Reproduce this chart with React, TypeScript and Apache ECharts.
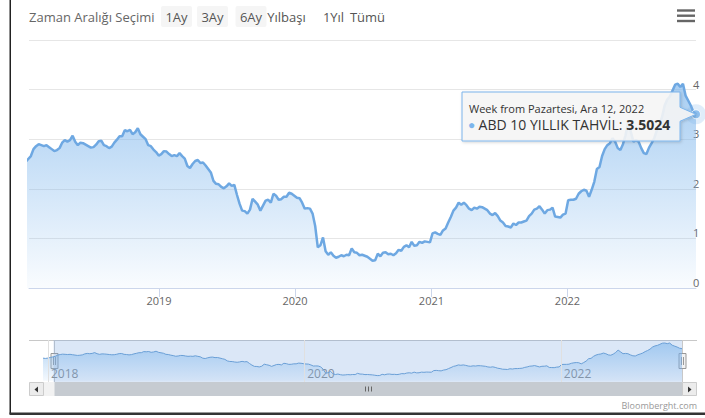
import React, { useEffect, useRef } from 'react';
import * as echarts from 'echarts';

// ---------- data ----------
const SERIES_NAME = 'ABD 10 YILLIK TAHVİL';
// first Monday of each block of weekly values
const FIRST_MONDAYS = ['2017-12-18', '2018-01-01', '2019-01-07', '2020-01-06', '2021-01-04', '2022-01-03'];

const y2017 = [2.46, 2.43];
const y2018 = [
  2.47, 2.54, 2.6, 2.66, 2.8,
  2.86, 2.9, 2.88, 2.86,
  2.88, 2.84, 2.8, 2.76,
  2.78, 2.82, 2.93, 2.98, 2.95,
  2.98, 3.07, 2.95, 2.88,
  2.93, 2.92, 2.89, 2.86,
  2.83, 2.84, 2.89, 2.96, 2.97,
  2.88, 2.86, 2.82, 2.85,
  2.93, 2.99, 3.06, 3.06,
  3.18, 3.16, 3.19, 3.1, 3.14,
  3.22, 3.1, 3.05, 3.0,
  2.88, 2.86, 2.79, 2.74, 2.67,
];
const y2019 = [
  2.7, 2.76, 2.75, 2.7,
  2.66, 2.68, 2.66, 2.72,
  2.66, 2.61, 2.46, 2.42,
  2.5, 2.56, 2.58, 2.52, 2.53,
  2.47, 2.4, 2.33, 2.16,
  2.1, 2.09, 2.04, 2.01,
  2.05, 2.11, 2.06, 2.08, 1.88,
  1.7, 1.56, 1.55, 1.5,
  1.58, 1.8, 1.74, 1.68, 1.56,
  1.66, 1.76, 1.78, 1.72,
  1.9, 1.86, 1.78, 1.79,
  1.84, 1.84, 1.92, 1.9, 1.86,
];
const y2020 = [
  1.82, 1.81, 1.72, 1.6,
  1.61, 1.6, 1.5, 1.25,
  0.82, 0.86, 1.02, 0.74, 0.67,
  0.72, 0.65, 0.61, 0.63,
  0.66, 0.64, 0.67, 0.66,
  0.8, 0.72, 0.71, 0.66, 0.67,
  0.65, 0.63, 0.59, 0.55,
  0.56, 0.69, 0.64, 0.71, 0.72,
  0.68, 0.69, 0.66, 0.7,
  0.77, 0.75, 0.83, 0.86,
  0.82, 0.93, 0.85, 0.86, 0.93,
  0.91, 0.94, 0.93, 0.92,
];
const y2021 = [
  1.1, 1.12, 1.09, 1.07,
  1.16, 1.2, 1.32, 1.43,
  1.56, 1.62, 1.72, 1.68, 1.72,
  1.67, 1.6, 1.57, 1.62,
  1.6, 1.64, 1.63, 1.6, 1.57,
  1.5, 1.47, 1.51, 1.45,
  1.36, 1.32, 1.25, 1.24,
  1.22, 1.3, 1.27, 1.32, 1.32,
  1.34, 1.36, 1.45, 1.5,
  1.58, 1.6, 1.65, 1.58,
  1.5, 1.57, 1.58, 1.62, 1.44,
  1.43, 1.42, 1.48, 1.5,
];
const y2022 = [
  1.77, 1.78, 1.78, 1.8, 1.9,
  1.95, 1.98, 1.96, 1.84,
  1.98, 2.14, 2.4, 2.44,
  2.66, 2.8, 2.88, 2.92,
  3.02, 2.95, 2.82, 2.78, 2.9,
  3.08, 3.35, 3.15, 2.95,
  2.98, 2.95, 2.82, 2.72,
  2.7, 2.83, 2.92, 3.02, 3.18,
  3.3, 3.45, 3.68, 3.8,
  3.86, 3.98, 4.1, 4.12, 4.05,
  4.12, 3.88, 3.78, 3.68,
  3.55, 3.5024,
];
const VALUE_BLOCKS = [y2017, y2018, y2019, y2020, y2021, y2022];

const MAIN_START = '2018-01-17';
const MAIN_YEAR_TICKS = [2019, 2020, 2021, 2022];
const NAV_YEAR_TICKS = [2018, 2020, 2022];
const Y_MIN = 0;
const Y_MAX = 5;
const Y_STEP = 1;
const RANGE_LABEL = 'Zaman Aralığı Seçimi';
const RANGE_BUTTONS = ['1Ay', '3Ay', '6Ay', 'Yılbaşı', '1Yıl', 'Tümü'];
const TR_MONTHS = ['Oca', 'Şub', 'Mar', 'Nis', 'May', 'Haz', 'Tem', 'Ağu', 'Eyl', 'Eki', 'Kas', 'Ara'];
const CREDITS = 'Bloomberght.com';

// ---------- helpers ----------
const DAY = 86400000;
const toTs = (s: string) => {
  const [y, m, d] = s.split('-').map(Number);
  return Date.UTC(y, m - 1, d);
};
const POINTS: [number, number][] = [];
VALUE_BLOCKS.forEach((vals, b) => {
  const t0 = toTs(FIRST_MONDAYS[b]);
  vals.forEach((v, i) => POINTS.push([t0 + i * 7 * DAY, v]));
});
const FIRST_TS = POINTS[0][0];
const LAST = POINTS[POINTS.length - 1];
const LAST_TS = LAST[0];
const yearTs = (y: number) => Date.UTC(y, 0, 1);
const yearLabel = (v: number) => String(new Date(v).getUTCFullYear());

const FONT = '"Open Sans", "Noto Sans", sans-serif';
const BLUE = '#7cb5ec';
const LINE_BLUE = '#6ea8e2';

const grad = (a0: number, a1: number) =>
  new echarts.graphic.LinearGradient(0, 0, 0, 1, [
    { offset: 0, color: `rgba(124,181,236,${a0})` },
    { offset: 1, color: `rgba(124,181,236,${a1})` },
  ]);

export default function App() {
  const ref = useRef<HTMLDivElement>(null);

  useEffect(() => {
    if (!ref.current) return;
    const chart = echarts.init(ref.current, undefined, { renderer: 'svg' });
    const mainMin = toTs(MAIN_START);

    chart.setOption({
      animation: false,
      backgroundColor: '#ffffff',
      textStyle: { fontFamily: FONT },
      grid: [
        { left: 29, top: 40, width: 667, height: 248 },
        { left: 43, top: 340, width: 639, height: 42 },
      ],
      xAxis: [
        {
          type: 'value',
          gridIndex: 0,
          min: mainMin,
          max: LAST_TS,
          axisLine: { show: true, onZero: false, lineStyle: { color: '#ccd6eb', width: 1 } },
          axisTick: {
            show: true,
            length: 9,
            lineStyle: { color: '#ccd6eb' },
            customValues: MAIN_YEAR_TICKS.map(yearTs),
          },
          axisLabel: {
            customValues: MAIN_YEAR_TICKS.map(yearTs),
            formatter: yearLabel,
            color: '#666666',
            fontSize: 11,
            fontFamily: FONT,
            margin: 7,
          },
          splitLine: { show: false },
        },
        {
          type: 'value',
          gridIndex: 1,
          min: FIRST_TS,
          max: LAST_TS,
          axisLine: { show: false, onZero: false },
          axisTick: { show: false },
          axisLabel: {
            customValues: NAV_YEAR_TICKS.map(yearTs),
            formatter: yearLabel,
            inside: true,
            align: 'left',
            verticalAlign: 'bottom',
            padding: [0, 0, 0, 3],
            margin: 3,
            color: '#8a8a8a',
            fontSize: 12,
            fontFamily: FONT,
          },
          splitLine: { show: false },
        },
      ],
      yAxis: [
        {
          type: 'value',
          gridIndex: 0,
          position: 'right',
          min: Y_MIN,
          max: Y_MAX,
          interval: Y_STEP,
          axisLine: { show: false },
          axisTick: { show: false },
          splitLine: { show: true, lineStyle: { color: '#e6e6e6', width: 1 } },
          axisLabel: {
            color: '#666666',
            fontSize: 11,
            fontFamily: FONT,
            margin: -3,
            align: 'left',
            verticalAlign: 'bottom',
            formatter: (v: number) => (v === Y_MAX ? '' : String(v)),
          },
        },
        {
          type: 'value',
          gridIndex: 1,
          min: -0.15,
          max: 4.45,
          show: false,
          splitLine: { show: false },
        },
      ],
      series: [
        {
          name: SERIES_NAME,
          type: 'line',
          xAxisIndex: 0,
          yAxisIndex: 0,
          data: POINTS,
          showSymbol: false,
          symbol: 'none',
          lineStyle: { color: LINE_BLUE, width: 2.5 },
          areaStyle: { color: grad(0.95, 0.06) },
          z: 2,
        },
        {
          type: 'scatter',
          xAxisIndex: 0,
          yAxisIndex: 0,
          data: [LAST],
          symbolSize: 20,
          itemStyle: { color: 'rgba(124,181,236,0.3)' },
          clip: false,
          silent: true,
          z: 4,
        },
        {
          type: 'scatter',
          xAxisIndex: 0,
          yAxisIndex: 0,
          data: [LAST],
          symbolSize: 9,
          itemStyle: { color: BLUE, borderColor: '#ffffff', borderWidth: 1 },
          clip: false,
          silent: true,
          z: 5,
        },
        {
          type: 'line',
          xAxisIndex: 1,
          yAxisIndex: 1,
          data: POINTS,
          showSymbol: false,
          symbol: 'none',
          lineStyle: { color: '#6a9fd6', width: 1 },
          areaStyle: { color: grad(0.85, 0.12) },
          silent: true,
          markLine: {
            silent: true,
            symbol: 'none',
            label: { show: false },
            lineStyle: { color: '#e0e0e0', width: 1, type: 'solid' },
            data: NAV_YEAR_TICKS.map((y) => ({ xAxis: yearTs(y) })),
          },
          markArea: {
            silent: true,
            itemStyle: { color: 'rgba(110,160,225,0.25)' },
            data: [[{ xAxis: mainMin }, { xAxis: LAST_TS }]],
          },
        },
      ],
    });

    // ---- decorations positioned through the chart's own scales ----
    const hl = chart.convertToPixel({ gridIndex: 1 }, [mainMin, 0]) as number[];
    const hr = chart.convertToPixel({ gridIndex: 1 }, [LAST_TS, 0]) as number[];
    const anchor = chart.convertToPixel({ seriesIndex: 0 }, LAST) as number[];
    const lx = Math.round(hl[0]) + 0.5;
    const rx = Math.round(hr[0]) + 0.5;
    const navTop = 340;
    const navBot = 382;
    const plotL = 29;
    const plotR = 697;

    const lastDate = new Date(LAST_TS);
    const tipTitle = `Week from Pazartesi, ${TR_MONTHS[lastDate.getUTCMonth()]} ${lastDate.getUTCDate()}, ${lastDate.getUTCFullYear()}`;

    const handle = (x: number) => ({
      type: 'group',
      children: [
        {
          type: 'rect',
          shape: { x: x - 3.5, y: 353.5, width: 7, height: 15 },
          style: { fill: '#f2f2f2', stroke: '#999999', lineWidth: 1 },
        },
        { type: 'line', shape: { x1: x - 1, y1: 357, x2: x - 1, y2: 365 }, style: { stroke: '#999999', lineWidth: 1 } },
        { type: 'line', shape: { x1: x + 1, y1: 357, x2: x + 1, y2: 365 }, style: { stroke: '#999999', lineWidth: 1 } },
      ],
    });

    // tooltip box with callout pointer
    const bx0 = 462, by0 = 92, bx1 = 680, by1 = 141;
    const ax = anchor[0], ay = anchor[1];

    // range selector buttons (text centres; first three have a pale box)
    const btnCenters = [176.5, 212.5, 251, 286.5, 333.5, 367.5];
    const btnEls: any[] = [];
    RANGE_BUTTONS.forEach((b, i) => {
      if (i < 3) {
        btnEls.push({
          type: 'rect',
          shape: { x: btnCenters[i] - 15.5, y: 6, width: 31, height: 21, r: 2 },
          style: { fill: '#f5f5f5' },
        });
      }
      btnEls.push({
        type: 'text',
        x: btnCenters[i],
        y: 16.5,
        style: { text: b, fill: '#555555', font: `13px ${FONT}`, align: 'center', verticalAlign: 'middle' },
      });
    });

    chart.setOption({
      graphic: [
        // frame
        { type: 'rect', shape: { x: 9.5, y: 0, width: 1.5, height: 414 }, style: { fill: '#222222' } },
        { type: 'rect', shape: { x: 9.5, y: 412.5, width: 695.5, height: 2.5 }, style: { fill: '#333333' } },
        // range selector
        {
          type: 'text',
          x: 29,
          y: 16.5,
          style: { text: RANGE_LABEL, fill: '#666666', font: `13px ${FONT}`, verticalAlign: 'middle' },
        },
        ...btnEls,
        // menu icon
        { type: 'rect', shape: { x: 677, y: 9.3, width: 18, height: 2.4 }, style: { fill: '#666666' } },
        { type: 'rect', shape: { x: 677, y: 14.5, width: 18, height: 2.4 }, style: { fill: '#666666' } },
        { type: 'rect', shape: { x: 677, y: 19.8, width: 18, height: 2.4 }, style: { fill: '#666666' } },
        // navigator outline
        { type: 'line', shape: { x1: plotL, y1: navTop + 0.5, x2: plotR, y2: navTop + 0.5 }, style: { stroke: '#c8c8c8', lineWidth: 1 } },
        { type: 'line', shape: { x1: lx, y1: navTop, x2: lx, y2: navBot }, style: { stroke: '#c8c8c8', lineWidth: 1 } },
        { type: 'line', shape: { x1: rx, y1: navTop, x2: rx, y2: navBot }, style: { stroke: '#c8c8c8', lineWidth: 1 } },
        // scrollbar
        { type: 'rect', shape: { x: plotL, y: navBot, width: plotR - plotL, height: 14 }, style: { fill: '#f2f2f2' } },
        { type: 'rect', shape: { x: lx, y: navBot, width: rx - lx, height: 14 }, style: { fill: '#c6cbd1' } },
        { type: 'line', shape: { x1: (lx + rx) / 2 - 3, y1: 386.5, x2: (lx + rx) / 2 - 3, y2: 391.5 }, style: { stroke: '#666666', lineWidth: 1 } },
        { type: 'line', shape: { x1: (lx + rx) / 2, y1: 386.5, x2: (lx + rx) / 2, y2: 391.5 }, style: { stroke: '#666666', lineWidth: 1 } },
        { type: 'line', shape: { x1: (lx + rx) / 2 + 3, y1: 386.5, x2: (lx + rx) / 2 + 3, y2: 391.5 }, style: { stroke: '#666666', lineWidth: 1 } },
        { type: 'rect', shape: { x: plotL + 0.5, y: navBot + 0.5, width: 14, height: 13 }, style: { fill: '#ececec', stroke: '#cccccc', lineWidth: 1 } },
        { type: 'polygon', shape: { points: [[38, 386.5], [38, 392.5], [34.5, 389.5]] }, style: { fill: '#333333' } },
        { type: 'rect', shape: { x: plotR - 14.5, y: navBot + 0.5, width: 14, height: 13 }, style: { fill: '#ececec', stroke: '#cccccc', lineWidth: 1 } },
        { type: 'polygon', shape: { points: [[688, 386.5], [688, 392.5], [691.5, 389.5]] }, style: { fill: '#333333' } },
        // handles
        handle(lx),
        handle(rx),
        // credits
        {
          type: 'text',
          x: 697,
          y: 405,
          style: { text: CREDITS, fill: '#999999', font: `9px ${FONT}`, align: 'right', verticalAlign: 'middle' },
        },
        // tooltip
        {
          type: 'polygon',
          z: 100,
          shape: {
            points: [
              [bx0, by0], [bx1, by0], [bx1, ay - 7], [ax, ay], [bx1, ay + 7], [bx1, by1], [bx0, by1],
            ],
          },
          style: {
            fill: 'rgba(247,247,247,0.88)',
            stroke: BLUE,
            lineWidth: 1,
            shadowBlur: 3,
            shadowColor: 'rgba(0,0,0,0.18)',
            shadowOffsetX: 1,
            shadowOffsetY: 1,
          },
        },
        {
          type: 'text',
          z: 101,
          x: 469,
          y: 108,
          style: { text: tipTitle, fill: '#333333', font: `11px ${FONT}`, verticalAlign: 'middle' },
        },
        {
          type: 'text',
          z: 101,
          x: 468,
          y: 124,
          style: {
            text: `{d|●} {n|${SERIES_NAME}: }{b|${LAST[1].toFixed(4)}}`,
            verticalAlign: 'middle',
            rich: {
              d: { fill: BLUE, font: `12px ${FONT}` },
              n: { fill: '#333333', font: `14px ${FONT}` },
              b: { fill: '#333333', font: `bold 14px ${FONT}` },
            },
          },
        },
      ],
    });

    return () => chart.dispose();
  }, []);

  return (
    <div
      ref={ref}
      style={{ position: 'fixed', left: 0, top: 0, width: 705, height: 418, background: '#fff' }}
    />
  );
}
